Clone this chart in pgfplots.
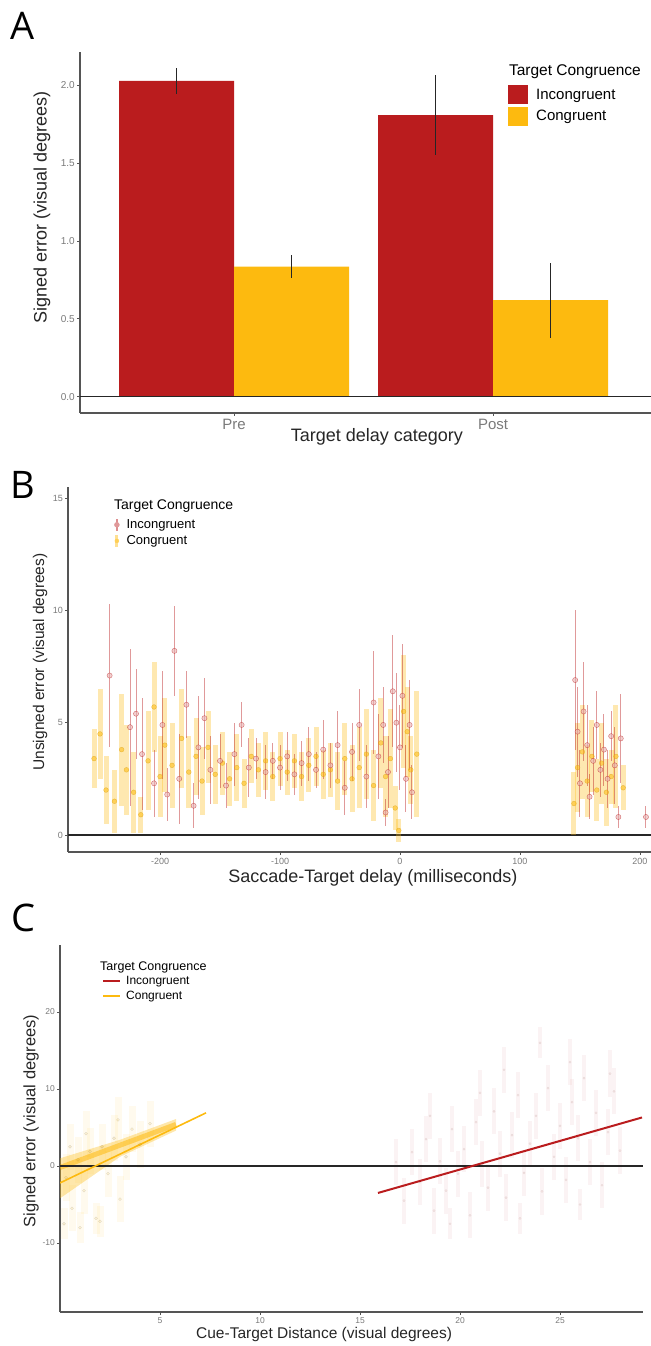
\documentclass[border=0pt]{standalone}
\usepackage{fontspec}
\setmainfont{Liberation Sans}
\newfontfamily\panelfont{Open Sans}
\usepackage{pgfplots}
\pgfplotsset{compat=1.18}
\definecolor{incred}{HTML}{BA1C1E}
\definecolor{congold}{HTML}{FDBA0F}
\definecolor{axgray}{HTML}{555555}
\definecolor{tickgray}{HTML}{7A7A7A}
\newcommand{\fs}[1]{\fontsize{#1}{#1}\selectfont}

\pgfplotsset{
  gg/.style={
    scale only axis,
    axis x line*=bottom, axis y line*=left,
    axis line style={axgray, line width=1.3bp},
    tick style={axgray, line width=0.8bp},
    tick align=outside,
    major tick length=3bp,
    /pgf/number format/assume math mode=true,
    ticklabel style={text=tickgray},
    xticklabel style={anchor=north, inner sep=0pt, yshift=-3bp},
    yticklabel style={anchor=east, inner sep=0pt, xshift=-2bp},
    label style={text=black!85},
    legend cell align=left,
  }
}

\begin{document}
\begin{tikzpicture}
\useasboundingbox (0,0) rectangle (651bp,1346bp);

% ---------------- A ----------------
\node[font=\panelfont\fs{38bp}] at (23bp,1320bp) {A};
\begin{axis}[gg, at={(80bp,933bp)}, anchor=south west,
  width=571bp, height=361bp,
  xmin=-0.5946, xmax=1.61, ymin=-0.105, ymax=2.215,
  xtick={0,1}, xticklabels={Pre,Post},
  ytick={0,0.5,1,1.5,2},
  /pgf/number format/fixed, /pgf/number format/fixed zerofill, /pgf/number format/precision=1,
  xticklabel style={font=\fs{15bp}},
  yticklabel style={font=\fs{10bp}},
  xlabel={Target delay category},
  ylabel={Signed error (visual degrees)},
  xlabel style={font=\fs{18bp}, at={(axis description cs:0.520,-0.0665)}, anchor=center},
  ylabel style={font=\fs{18bp}, at={(axis description cs:-0.0666,0.568)}, anchor=center},
  legend style={at={(axis description cs:0.7496,0.9086)}, anchor=north west,
    draw=none, fill=none, inner sep=0pt, row sep=2.5bp, font=\fs{15bp},
    nodes={inner sep=0pt}, /tikz/every odd column/.append style={column sep=8bp}},
  legend image code/.code={\fill[#1] (0bp,-9.5bp) rectangle (20bp,9.5bp);},
]
\addplot[ybar, bar width=0.444, bar shift=0pt, fill=incred, draw=none]
  coordinates {(-0.222,2.03) (0.778,1.81)};
\addlegendentry{Incongruent}
\addplot[ybar, bar width=0.444, bar shift=0pt, fill=congold, draw=none]
  coordinates {(0.222,0.835) (1.222,0.62)};
\addlegendentry{Congruent}
\addplot[forget plot, draw=none, mark=none,
  error bars/.cd, y dir=both, y explicit, error mark=none,
  error bar style={draw=black!85, line width=1.1bp}]
  coordinates {(-0.222,2.03) +- (0,0.085) (0.778,1.81) +- (0,0.26)
               (0.222,0.835) +- (0,0.075) (1.222,0.62) +- (0,0.24)};
\addplot[forget plot, black!85, line width=1.1bp] coordinates {(-0.5946,0) (1.61,0)};
\node[anchor=west, inner sep=0pt, font=\fs{15.5bp}] at (axis description cs:0.751,0.9446) {Target Congruence};
\end{axis}

% ---------------- B ----------------
\node[font=\panelfont\fs{38bp}] at (23bp,861bp) {B};
\begin{axis}[gg, at={(68bp,494bp)}, anchor=south west,
  width=583bp, height=365bp,
  xmin=-276.7, xmax=209.2, ymin=-0.76, ymax=15.5,
  xtick={-200,-100,0,100,200}, ytick={0,5,10,15},
  ticklabel style={font=\fs{9bp}},
  xlabel={Saccade-Target delay (milliseconds)},
  ylabel={Unsigned error (visual degrees)},
  xlabel style={font=\fs{18bp}, at={(axis description cs:0.523,-0.0712)}, anchor=center},
  ylabel style={font=\fs{15.5bp}, at={(axis description cs:-0.048,0.5205)}, anchor=center},
  reverse legend,
  legend style={at={(axis description cs:0.0789,0.915)}, anchor=north west,
    draw=none, fill=none, inner sep=0pt, row sep=2bp, font=\fs{13bp},
    nodes={inner sep=0pt}, /tikz/every odd column/.append style={column sep=7bp}},
]
\addplot[forget plot, black!85, line width=1.8bp] coordinates {(-276.7,0) (209.2,0)};
\addplot[only marks, mark=*, mark size=2.4bp,
  mark options={fill=congold, draw=congold!85!black, opacity=0.55},
  legend image code/.code={\draw[congold!45, line width=3bp] (4bp,-6bp)--(4bp,6bp); \fill[congold!70] (4bp,0bp) circle (2bp);},
  error bars/.cd, y dir=both, y explicit, error mark=none,
  error bar style={draw=congold, line width=5bp, opacity=0.33}]
  coordinates {
  (-255,3.4) +- (0,1.3) (-250,4.5) +- (0,2.0) (-245,2.0) +- (0,1.5) (-238,1.5) +- (0,1.4)
  (-232,3.8) +- (0,2.5) (-228,2.9) +- (0,2.0) (-222,1.9) +- (0,1.8) (-216,0.9) +- (0,0.8)
  (-210,3.3) +- (0,2.2) (-205,5.7) +- (0,2.0) (-200,2.6) +- (0,1.8) (-196,4.0) +- (0,2.1)
  (-190,3.1) +- (0,1.9) (-182,4.3) +- (0,2.2) (-176,2.8) +- (0,1.6) (-170,3.5) +- (0,1.7)
  (-165,2.4) +- (0,1.5) (-160,3.9) +- (0,1.6) (-154,2.7) +- (0,1.3) (-148,3.2) +- (0,1.4)
  (-142,2.5) +- (0,1.2) (-136,3.0) +- (0,1.5) (-130,2.3) +- (0,1.1) (-124,3.5) +- (0,1.2)
  (-118,2.9) +- (0,1.2) (-112,3.3) +- (0,1.3) (-106,2.6) +- (0,1.1) (-100,3.4) +- (0,1.2)
  (-94,2.8) +- (0,1.0) (-88,3.3) +- (0,1.2) (-82,2.6) +- (0,1.1) (-76,3.1) +- (0,1.2)
  (-70,3.5) +- (0,1.3) (-64,2.7) +- (0,1.1) (-58,2.9) +- (0,1.2) (-52,2.4) +- (0,1.3)
  (-46,3.4) +- (0,1.6) (-40,2.5) +- (0,1.5) (-34,3.0) +- (0,1.8) (-28,3.6) +- (0,2.0)
  (-22,2.2) +- (0,1.6) (-16,4.1) +- (0,2.0) (-12,2.6) +- (0,1.8) (-8,3.4) +- (0,2.2)
  (-4,1.2) +- (0,1.0) (-1,0.2) +- (0,0.5) (3,5.5) +- (0,2.5) (6,4.6) +- (0,2.0)
  (9,2.9) +- (0,1.5) (14,3.6) +- (0,2.8)
  (145,1.4) +- (0,1.4) (148,3.0) +- (0,2.0) (152,3.7) +- (0,2.1) (156,2.4) +- (0,1.6)
  (160,3.5) +- (0,1.6) (164,2.0) +- (0,1.4) (168,3.2) +- (0,1.8) (172,1.9) +- (0,1.5)
  (176,2.6) +- (0,1.2) (180,3.5) +- (0,2.3) (186,2.1) +- (0,1.0)
  };
\addplot[only marks, mark=*, mark size=2.6bp,
  mark options={fill=incred!35, draw=incred, opacity=0.6},
  legend image code/.code={\draw[incred!50, line width=1.2bp] (4bp,-6bp)--(4bp,6bp); \fill[incred!45] (4bp,0bp) circle (2.5bp);},
  error bars/.cd, y dir=both, y explicit, error mark=none,
  error bar style={draw=incred, line width=1bp, opacity=0.45}]
  coordinates {
  (-242,7.1) +- (0,3.2) (-225,4.8) +- (0,3.5) (-220,5.4) +- (0,2.0) (-215,3.6) +- (0,2.5)
  (-205,2.3) +- (0,1.5) (-198,4.9) +- (0,2.4) (-194,1.8) +- (0,1.2) (-188,8.2) +- (0,2.0)
  (-184,2.5) +- (0,2.0) (-178,5.8) +- (0,1.5) (-172,1.3) +- (0,1.0) (-168,3.9) +- (0,2.3)
  (-163,5.2) +- (0,1.8) (-158,2.9) +- (0,1.5) (-150,3.3) +- (0,1.2) (-145,2.2) +- (0,1.0)
  (-138,3.6) +- (0,1.4) (-132,4.9) +- (0,1.0) (-126,3.0) +- (0,1.3) (-120,3.4) +- (0,0.9)
  (-112,2.8) +- (0,1.2) (-106,3.3) +- (0,0.8) (-100,3.0) +- (0,1.0) (-94,3.5) +- (0,1.1)
  (-88,2.7) +- (0,0.9) (-82,3.2) +- (0,1.0) (-76,3.6) +- (0,1.2) (-70,2.9) +- (0,0.8)
  (-64,3.8) +- (0,1.3) (-58,3.1) +- (0,1.0) (-52,4.0) +- (0,1.5) (-46,2.1) +- (0,1.2)
  (-40,3.7) +- (0,1.3) (-34,4.9) +- (0,1.6) (-28,2.6) +- (0,1.4) (-22,5.9) +- (0,2.3)
  (-18,3.5) +- (0,1.9) (-14,4.9) +- (0,1.7) (-12,1.0) +- (0,0.6) (-10,2.8) +- (0,1.6)
  (-6,6.4) +- (0,2.5) (-3,5.0) +- (0,2.2) (0,3.9) +- (0,1.9) (2,6.2) +- (0,2.3)
  (5,2.5) +- (0,1.5) (8,4.9) +- (0,2.0) (10,1.9) +- (0,1.2)
  (146,6.9) +- (0,3.1) (148,4.6) +- (0,2.0) (150,2.3) +- (0,1.5) (153,5.5) +- (0,2.2)
  (156,4.0) +- (0,1.8) (158,1.7) +- (0,1.0) (161,3.3) +- (0,1.5) (164,4.9) +- (0,1.5)
  (167,2.9) +- (0,1.2) (170,3.8) +- (0,1.6) (173,2.5) +- (0,1.3) (176,4.4) +- (0,1.1)
  (179,3.1) +- (0,1.7) (182,0.8) +- (0,0.5) (184,4.3) +- (0,2.0) (205,0.8) +- (0,0.5)
  };
\legend{Congruent,Incongruent}
\node[anchor=west, inner sep=0pt, font=\fs{14bp}] at (axis description cs:0.0789,0.948) {Target Congruence};
\end{axis}

% ---------------- C ----------------
\node[font=\panelfont\fs{38bp}] at (23bp,428bp) {C};
\begin{axis}[gg, at={(60bp,34bp)}, anchor=south west,
  width=583bp, height=367bp,
  xmin=0, xmax=29.15, ymin=-18.96, ymax=28.7,
  xtick={5,10,15,20,25}, ytick={-10,0,10,20},
  ticklabel style={font=\fs{8.5bp}},
  xticklabel style={yshift=1bp},
  xlabel={Cue-Target Distance (visual degrees)},
  ylabel={Signed error (visual degrees)},
  xlabel style={font=\fs{15.5bp}, at={(axis description cs:0.453,-0.060)}, anchor=center},
  ylabel style={font=\fs{16.5bp}, at={(axis description cs:-0.0497,0.520)}, anchor=center},
  legend style={at={(axis description cs:0.0720,0.915)}, anchor=north west,
    draw=none, fill=none, inner sep=0pt, row sep=5bp, font=\fs{12bp},
    nodes={inner sep=0pt}, /tikz/every odd column/.append style={column sep=5bp}},
  legend image code/.code={\draw[#1] (0bp,0bp)--(17bp,0bp);},
]
% faint raw trials
\addplot[forget plot, only marks, mark=*, mark size=1.2bp,
  mark options={fill=incred, draw=none, opacity=0.07},
  error bars/.cd, y dir=both, y explicit, error mark=none,
  error bar style={draw=incred, line width=4bp, opacity=0.05}]
  coordinates {
  (17.2,-4.5) +- (0,3) (17.6,1.8) +- (0,3) (18.0,-2.1) +- (0,3) (18.3,3.5) +- (0,3)
  (18.7,-5.8) +- (0,3) (19.0,0.6) +- (0,3) (19.3,-3.2) +- (0,3) (19.6,4.8) +- (0,3)
  (19.9,-1.0) +- (0,3) (20.2,2.2) +- (0,3) (20.5,-6.4) +- (0,3) (20.8,5.7) +- (0,3)
  (21.1,0.3) +- (0,3) (21.4,-2.8) +- (0,3) (21.7,7.1) +- (0,3) (22.0,1.6) +- (0,3)
  (22.3,-4.1) +- (0,3) (22.6,4.0) +- (0,3) (22.9,9.2) +- (0,3) (23.2,-0.9) +- (0,3)
  (23.5,2.9) +- (0,3) (23.8,6.5) +- (0,3) (24.1,-3.3) +- (0,3) (24.4,10.1) +- (0,3)
  (24.7,1.2) +- (0,3) (25.0,5.2) +- (0,3) (25.3,-1.8) +- (0,3) (25.6,8.3) +- (0,3)
  (25.9,3.6) +- (0,3) (26.2,11.4) +- (0,3) (26.5,0.5) +- (0,3) (26.8,6.9) +- (0,3)
  (27.1,-2.5) +- (0,3) (27.4,4.4) +- (0,3) (27.7,9.7) +- (0,3) (28.0,2.0) +- (0,3)
  (24.0,16.0) +- (0,2) (21.0,9.5) +- (0,3) (19.5,-7.5) +- (0,2) (23.0,-6.8) +- (0,2)
  (26.0,-5.0) +- (0,2) (27.5,12.0) +- (0,3) (18.5,6.5) +- (0,3) (16.8,0.5) +- (0,3)
  (22.2,12.5) +- (0,3) (25.5,13.5) +- (0,3)
  };
\addplot[forget plot, only marks, mark=*, mark size=1.5bp,
  mark options={fill=congold, draw=none, opacity=0.12},
  error bars/.cd, y dir=both, y explicit, error mark=none,
  error bar style={draw=congold, line width=7bp, opacity=0.07}]
  coordinates {
  (0.3,-1.5) +- (0,3) (0.6,-5.5) +- (0,3) (0.9,0.8) +- (0,3) (1.2,-3.2) +- (0,3)
  (1.5,1.9) +- (0,3) (1.8,-6.8) +- (0,2) (2.1,2.5) +- (0,3) (2.4,-1.0) +- (0,3)
  (2.7,3.6) +- (0,3) (3.0,-4.3) +- (0,3) (3.3,1.2) +- (0,3) (3.6,4.8) +- (0,3)
  (0.2,-7.5) +- (0,2) (1.0,-8.0) +- (0,2) (2.0,-7.2) +- (0,2) (4.0,2.8) +- (0,3)
  (4.5,5.5) +- (0,3) (0.5,2.5) +- (0,3) (1.3,4.2) +- (0,3) (2.9,6.0) +- (0,3)
  };
% congruent confidence band
\addplot[forget plot, fill=congold, draw=none, opacity=0.35]
  coordinates {(0,-4.2) (3,1.2) (5.8,4.6) (5.8,6.1) (3,3.4) (0,1.0)} -- cycle;
\addplot[forget plot, congold, line width=5bp, opacity=0.55] coordinates {(0,-0.2) (5.8,5.4)};
\addplot[forget plot, black!85, line width=1.1bp] coordinates {(0,0) (29.15,0)};
\addplot[incred, line width=2bp] coordinates {(15.9,-3.5) (29.1,6.3)};
\addlegendentry{Incongruent}
\addplot[congold, line width=1.6bp] coordinates {(0,-2.2) (7.3,6.9)};
\addlegendentry{Congruent}
\node[anchor=west, inner sep=0pt, font=\fs{12.5bp}] at (axis description cs:0.0686,0.940) {Target Congruence};
\end{axis}
\end{tikzpicture}
\end{document}
